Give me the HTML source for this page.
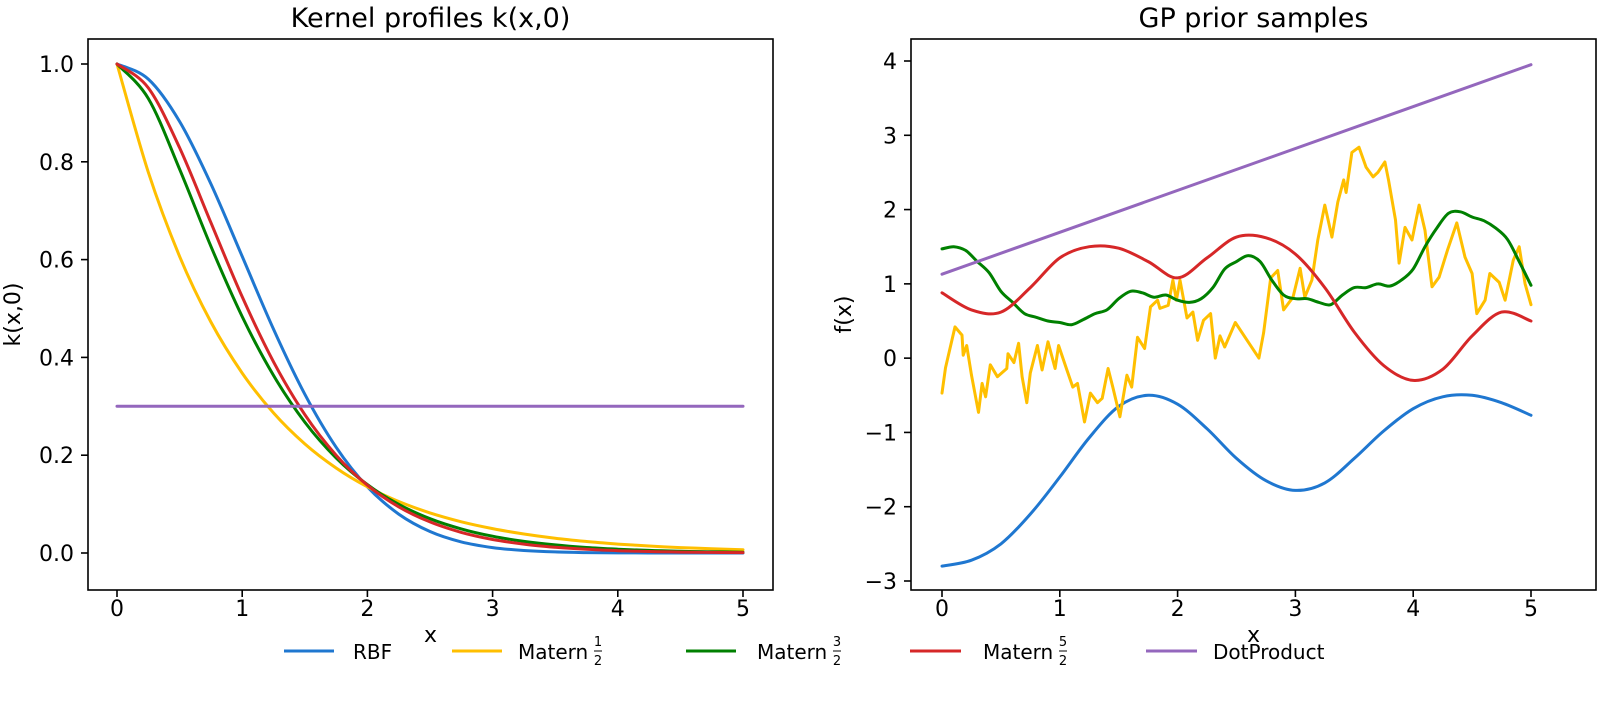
<!DOCTYPE html>
<html><head><meta charset="utf-8"><style>
html,body{margin:0;padding:0;background:#fff;}
svg{display:block;font-family:"DejaVu Sans","Liberation Sans",sans-serif;}
</style></head><body>
<svg id="fig" width="1601" height="714" viewBox="0 0 1601 714" xmlns="http://www.w3.org/2000/svg">
<rect width="1601" height="714" fill="#fff"/>
<g id="left"></g>
<g id="right"></g>
<g id="legend">
  <g><line x1="284" y1="651" x2="334" y2="651" stroke="#1f77d0" stroke-width="3"/><text x="353" y="659" font-size="20">RBF</text></g>
  <g><line x1="452" y1="651" x2="502" y2="651" stroke="#ffbf00" stroke-width="3"/><text x="518" y="659" font-size="20">Matern</text><text x="598" y="646" font-size="13" text-anchor="middle">1</text><line x1="594" y1="651" x2="602" y2="651" stroke="#000" stroke-width="1"/><text x="598" y="665" font-size="13" text-anchor="middle">2</text></g>
  <g><line x1="686" y1="651" x2="736" y2="651" stroke="#008000" stroke-width="3"/><text x="757" y="659" font-size="20">Matern</text><text x="837" y="646" font-size="13" text-anchor="middle">3</text><line x1="833" y1="651" x2="841" y2="651" stroke="#000" stroke-width="1"/><text x="837" y="665" font-size="13" text-anchor="middle">2</text></g>
  <g><line x1="910" y1="651" x2="961" y2="651" stroke="#d62728" stroke-width="3"/><text x="983" y="659" font-size="20">Matern</text><text x="1063" y="646" font-size="13" text-anchor="middle">5</text><line x1="1059" y1="651" x2="1067" y2="651" stroke="#000" stroke-width="1"/><text x="1063" y="665" font-size="13" text-anchor="middle">2</text></g>
  <g><line x1="1146" y1="651" x2="1197" y2="651" stroke="#9467bd" stroke-width="3"/><text x="1213" y="659" font-size="20">DotProduct</text></g>
</g>
</svg>
<script>
// ---- Left chart data ----
const kX = [0,0.25,0.5,0.75,1,1.25,1.5,1.75,2,2.25,2.5,2.75,3,3.25,3.5,3.75,4,4.25,4.5,4.75,5];
const kRBF = [1,0.9692,0.8825,0.7548,0.6065,0.4578,0.3247,0.2163,0.1353,0.0796,0.0439,0.0228,0.0111,0.0051,0.0022,0.0009,0.0003,0.0001,0,0,0];
const kM12 = [1,0.7788,0.6065,0.4724,0.3679,0.2865,0.2231,0.1738,0.1353,0.1054,0.0821,0.0639,0.0498,0.0388,0.0302,0.0235,0.0183,0.0143,0.0111,0.0087,0.0067];
const kM32 = [1,0.9295,0.7849,0.6272,0.4834,0.3631,0.2677,0.1945,0.1398,0.0995,0.0702,0.0492,0.0343,0.0238,0.0165,0.0113,0.0078,0.0053,0.0036,0.0025,0.0017];
const kM52 = [1,0.9511,0.8286,0.6756,0.5240,0.3911,0.2830,0.2000,0.1386,0.0945,0.0635,0.0422,0.0277,0.0181,0.0117,0.0075,0.0048,0.0030,0.0019,0.0012,0.0008];
const kDot = [0.3,0.3,0.3,0.3,0.3,0.3,0.3,0.3,0.3,0.3,0.3,0.3,0.3,0.3,0.3,0.3,0.3,0.3,0.3,0.3,0.3];
const leftXTicks = [0,1,2,3,4,5];
const leftYTicks = [0.0,0.2,0.4,0.6,0.8,1.0];
// ---- Right chart data ----
const sX = [0,0.25,0.5,0.75,1,1.25,1.5,1.75,2,2.25,2.5,2.75,3,3.25,3.5,3.75,4,4.25,4.5,4.75,5];
const sRBF = [-2.8,-2.72,-2.5,-2.1,-1.6,-1.07,-0.65,-0.5,-0.62,-0.95,-1.35,-1.65,-1.78,-1.68,-1.35,-0.98,-0.68,-0.52,-0.5,-0.6,-0.77];
const sM52 = [0.88,0.65,0.62,0.95,1.35,1.5,1.48,1.3,1.08,1.35,1.63,1.62,1.4,0.95,0.35,-0.1,-0.3,-0.15,0.3,0.62,0.5];
const sDotX = [0,5];
const sDot = [1.13,3.95];
const gX = [0,0.1,0.2,0.3,0.4,0.5,0.6,0.7,0.8,0.9,1,1.1,1.2,1.3,1.4,1.5,1.6,1.7,1.8,1.9,2,2.1,2.2,2.3,2.4,2.5,2.6,2.7,2.8,2.9,3,3.1,3.2,3.3,3.4,3.5,3.6,3.7,3.8,3.9,4,4.1,4.2,4.3,4.4,4.5,4.6,4.7,4.8,4.9,5];
const sM32 = [1.47,1.5,1.45,1.3,1.15,0.9,0.75,0.6,0.55,0.5,0.48,0.45,0.52,0.6,0.65,0.8,0.9,0.88,0.82,0.85,0.78,0.75,0.8,0.95,1.2,1.3,1.38,1.3,1.05,0.85,0.8,0.8,0.75,0.72,0.85,0.95,0.95,1.0,0.97,1.05,1.2,1.5,1.75,1.95,1.97,1.9,1.85,1.75,1.6,1.3,0.98];
const yX = [0,0.03,0.11,0.17,0.18,0.21,0.25,0.31,0.34,0.37,0.41,0.47,0.55,0.56,0.61,0.65,0.68,0.72,0.75,0.81,0.85,0.9,0.96,0.99,1.06,1.11,1.15,1.21,1.26,1.32,1.36,1.41,1.45,1.51,1.57,1.61,1.66,1.72,1.77,1.83,1.85,1.92,1.96,1.99,2.02,2.08,2.13,2.17,2.22,2.28,2.32,2.36,2.40,2.49,2.59,2.69,2.73,2.79,2.85,2.90,2.98,3.04,3.08,3.14,3.19,3.25,3.31,3.36,3.41,3.43,3.48,3.54,3.60,3.66,3.70,3.76,3.79,3.85,3.88,3.93,3.99,4.05,4.10,4.16,4.22,4.29,4.37,4.44,4.50,4.54,4.61,4.65,4.73,4.78,4.85,4.9,4.95,5.0];
const sM12 = [-0.47,-0.13,0.42,0.31,0.04,0.17,-0.23,-0.73,-0.34,-0.52,-0.09,-0.25,-0.14,0.06,-0.06,0.2,-0.25,-0.6,-0.2,0.17,-0.16,0.22,-0.14,0.17,-0.16,-0.39,-0.34,-0.86,-0.47,-0.6,-0.54,-0.14,-0.39,-0.79,-0.23,-0.39,0.28,0.13,0.69,0.78,0.67,0.71,1.05,0.78,1.05,0.54,0.62,0.24,0.51,0.6,0.0,0.3,0.15,0.48,0.24,0.0,0.34,1.08,1.18,0.65,0.82,1.21,0.82,1.05,1.59,2.06,1.63,2.1,2.4,2.23,2.77,2.84,2.57,2.44,2.5,2.64,2.4,1.86,1.28,1.76,1.59,2.06,1.72,0.96,1.09,1.45,1.82,1.36,1.14,0.6,0.78,1.14,1.02,0.78,1.32,1.5,1.0,0.72];
const rightXTicks = [0,1,2,3,4,5];
const rightYTicks = [-3,-2,-1,0,1,2,3,4];

const NS = "http://www.w3.org/2000/svg";
function mk(parent, tag, attrs){ const e=document.createElementNS(NS,tag); for(const k in attrs) e.setAttribute(k,attrs[k]); parent.appendChild(e); return e; }

function pathD(pts, smooth){
  if(!smooth) return pts.map((p,i)=>(i?'L':'M')+p[0].toFixed(1)+','+p[1].toFixed(1)).join('');
  let d='M'+pts[0][0].toFixed(1)+','+pts[0][1].toFixed(1);
  for(let i=0;i<pts.length-1;i++){
    const p0=pts[Math.max(0,i-1)], p1=pts[i], p2=pts[i+1], p3=pts[Math.min(pts.length-1,i+2)];
    const c1=[p1[0]+(p2[0]-p0[0])/6, p1[1]+(p2[1]-p0[1])/6];
    const c2=[p2[0]-(p3[0]-p1[0])/6, p2[1]-(p3[1]-p1[1])/6];
    d+='C'+c1[0].toFixed(1)+','+c1[1].toFixed(1)+' '+c2[0].toFixed(1)+','+c2[1].toFixed(1)+' '+p2[0].toFixed(1)+','+p2[1].toFixed(1);
  }
  return d;
}

function drawPanel(g, box, xs, ys, xt, yt, fmtY, title, ylabel, series){
  const sx = v => box.x0px + (v - xs[0])*(box.x1px-box.x0px)/(xs[1]-xs[0]);
  const sy = v => box.y0px + (v - ys[0])*(box.y1px-box.y0px)/(ys[1]-ys[0]);
  series.forEach(s=>{
    const pts = s.x.map((xv,i)=>[sx(xv), sy(s.y[i])]);
    const p = mk(g,'path',{d:pathD(pts, s.smooth),fill:'none',stroke:s.c,'stroke-width':3,'stroke-linejoin':'round','stroke-linecap':'round'});
    
    
  });
  const fr = mk(g,'rect',{x:box.L,y:box.T,width:box.R-box.L,height:box.B-box.T,fill:'none',stroke:'#000','stroke-width':1.6});
  
  
  xt.forEach(v=>{
    const x=sx(v);
    mk(g,'line',{x1:x,y1:box.B,x2:x,y2:box.B+7,stroke:'#000','stroke-width':1.6});
    const t=mk(g,'text',{x:x,y:box.B+26,'font-size':22,'text-anchor':'middle'}); t.textContent=String(v);
    
    
  });
  yt.forEach(v=>{
    const y=sy(v);
    mk(g,'line',{x1:box.L-7,y1:y,x2:box.L,y2:y,stroke:'#000','stroke-width':1.6});
    const t=mk(g,'text',{x:box.L-14,y:y+8,'font-size':22,'text-anchor':'end'}); t.textContent=fmtY(v);
    
    
  });
  const tt=mk(g,'text',{x:(box.L+box.R)/2,y:27,'font-size':27,'text-anchor':'middle'}); tt.textContent=title;
  
  
  const xl=mk(g,'text',{x:(box.L+box.R)/2,y:642,'font-size':22,'text-anchor':'middle'}); xl.textContent='x';
  
  
  const yx = box.L - (ylabel==='f(x)'?60:68);
  const yl=mk(g,'text',{x:yx,y:(box.T+box.B)/2,'font-size':22,'text-anchor':'middle',transform:`rotate(-90 ${yx} ${(box.T+box.B)/2})`}); yl.textContent=ylabel;
  
  
}

drawPanel(document.getElementById('left'),
  {L:88,R:773,T:39,B:590,x0px:117,x1px:743,y0px:553,y1px:64},
  [0,5],[0,1],leftXTicks,leftYTicks,v=>v.toFixed(1),'Kernel profiles k(x,0)','k(x,0)',
  [{x:kX,y:kRBF,c:'#1f77d0',name:'rbf-line',smooth:true},{x:kX,y:kM12,c:'#ffbf00',name:'matern-12-line',smooth:true},
   {x:kX,y:kM32,c:'#008000',name:'matern-32-line',smooth:true},{x:kX,y:kM52,c:'#d62728',name:'matern-52-line',smooth:true},
   {x:kX,y:kDot,c:'#9467bd',name:'dotproduct-line',smooth:false}]);

drawPanel(document.getElementById('right'),
  {L:911,R:1596,T:39,B:590,x0px:942,x1px:1531,y0px:581,y1px:61},
  [0,5],[-3,4],rightXTicks,rightYTicks,v=>(v<0?'\u2212'+Math.abs(v):String(v)),'GP prior samples','f(x)',
  [{x:sX,y:sRBF,c:'#1f77d0',name:'rbf-sample',smooth:true},{x:yX,y:sM12,c:'#ffbf00',name:'matern-12-sample',smooth:false},
   {x:gX,y:sM32,c:'#008000',name:'matern-32-sample',smooth:true},{x:sX,y:sM52,c:'#d62728',name:'matern-52-sample',smooth:true},
   {x:sDotX,y:sDot,c:'#9467bd',name:'dotproduct-sample',smooth:false}]);
</script>
</body></html>
